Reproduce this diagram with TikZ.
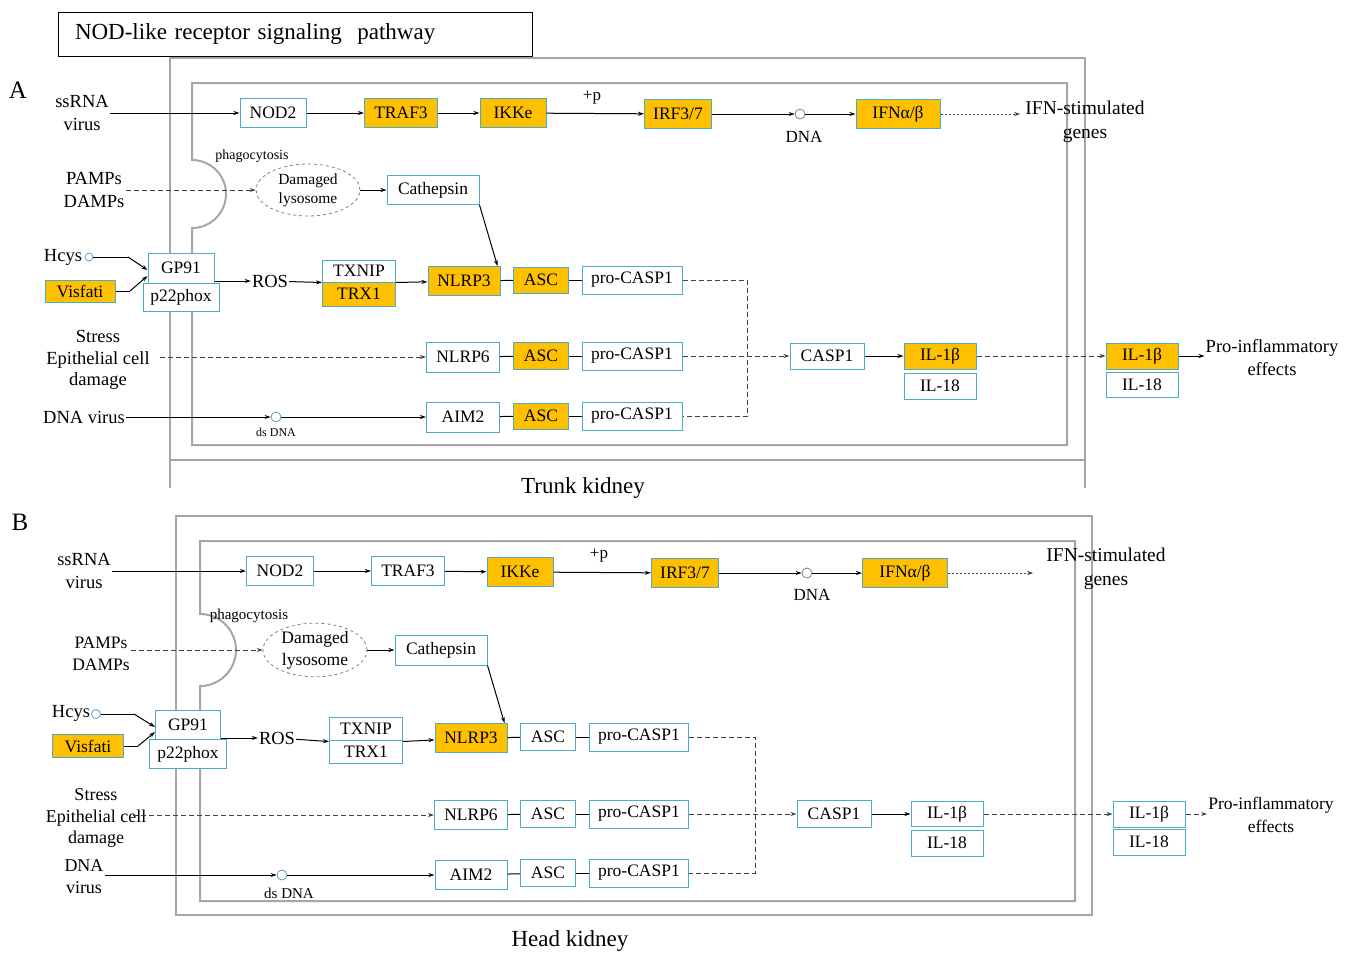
\documentclass[tikz,border=0pt]{standalone}
\usepackage{fontspec}
\setmainfont{Liberation Serif}
\usetikzlibrary{arrows.meta,shapes.geometric}
\definecolor{boxcyan}{RGB}{75,172,198}
\definecolor{boxorange}{RGB}{255,192,0}
\definecolor{membranegray}{RGB}{166,166,166}
\definecolor{linkgray}{RGB}{64,64,64}
\begin{document}
\begin{tikzpicture}[x=1pt, y=-1pt, >={Stealth[length=6pt,width=4pt]},
cyanbox/.style={rectangle, draw=boxcyan, fill=white, line width=1pt, minimum height=29pt, inner sep=1pt, font=\fontsize{17.5}{20}\selectfont},
orangebox/.style={cyanbox, fill=boxorange},
sidetext/.style={align=center, inner sep=1pt, font=\fontsize{18.5}{23}\selectfont},
smalltext/.style={inner sep=0pt, font=\fontsize{14}{16}\selectfont},
dotnode/.style={circle, draw=gray, line width=0.8pt, fill=white, minimum size=10pt, inner sep=0pt},
lysonode/.style={ellipse, draw=gray, dashed, line width=0.8pt, minimum width=104pt, minimum height=52pt, align=center, inner sep=0pt},
membrane/.style={draw=membranegray, line width=2pt},
link/.style={line width=1pt},
dashlink/.style={line width=1pt, draw=linkgray, dash pattern=on 5pt off 3pt},
dotlink/.style={line width=1pt, draw=linkgray, dash pattern=on 2pt off 2pt},
]
\useasboundingbox (0,0) rectangle (1352,954);

%Title
\node[draw, line width=1pt, minimum height=44pt, text width=440pt, inner xsep=17pt, align=left, font=\fontsize{23}{27}\selectfont](title) at(295,34) {NOD-like receptor signaling\ \ pathway};

%Membranes A
\draw[membrane] (170,488) -- (170,58) -- (1085,58) -- (1085,488);
\draw[membrane] (170,460) -- (1085,460);
\draw[membrane] (192,445) -- (192,228) arc[start angle=90, end angle=-90, radius=34] -- (192,83) -- (1067,83) -- (1067,445) -- cycle;

%Membranes B
\draw[membrane] (176,516) rectangle (1092,915);
\draw[membrane] (200,901) -- (200,686) arc[start angle=90, end angle=-90, radius=36] -- (200,541) -- (1075,541) -- (1075,901) -- cycle;

%Nodes A
\node[font=\fontsize{25}{28}\selectfont](labelA) at(18,90) {A};
\node[sidetext](ssrnaA) at(82,113) {ssRNA\\virus};
\node[cyanbox, minimum width=66pt](nodA) at(273,113) {NOD2};
\node[orangebox, minimum width=73pt](trafA) at(401,113) {TRAF3};
\node[orangebox, minimum width=66pt](ikkA) at(513,113) {IKKe};
\node[font=\fontsize{17}{20}\selectfont](plusA) at(592,98) {+p};
\node[orangebox, minimum width=67pt](irfA) at(678,114) {IRF3/7};
\node[dotnode](dnaDotA) at(800,114) {};
\node[font=\fontsize{17}{20}\selectfont](dnaA) at(804,137) {DNA};
\node[orangebox, minimum width=84pt](ifnA) at(898,114) {IFNα/β};
\node[sidetext, font=\fontsize{19.5}{24}\selectfont](isgA) at(1085,122) {IFN-stimulated\\genes};
\node[smalltext](phagoA) at(252,156) {phagocytosis};
\node[sidetext](pampsA) at(94,190) {PAMPs\\DAMPs};
\node[lysonode, font=\fontsize{15.5}{19}\selectfont](lysoA) at(308,190) {Damaged\\lysosome};
\node[cyanbox, minimum width=92pt](cathA) at(433,190) {Cathepsin};
\node[sidetext](hcysA) at(63,257) {Hcys};
\node[dotnode, draw=boxcyan, minimum size=8pt](hcysDotA) at(89,257) {};
\coordinate (hcysBendA) at(128,257);
\node[orangebox, minimum width=70pt, minimum height=22pt](visA) at(80,291) {Visfati};
\coordinate (visBendA) at(130,291);
\node[cyanbox, minimum width=66pt, minimum height=30pt](gpA) at(181,268) {GP91};
\node[cyanbox, minimum width=76pt, minimum height=28pt](phoxA) at(181,297) {p22phox};
\node[sidetext](rosA) at(270,281) {ROS};
\node[cyanbox, minimum width=73pt, minimum height=22pt](txnipA) at(359,271) {TXNIP};
\node[orangebox, minimum width=73pt, minimum height=24pt](trxA) at(359,294) {TRX1};
\node[orangebox, minimum width=72pt](nlrp3A) at(464,281) {NLRP3};
\node[orangebox, minimum width=55pt, minimum height=26pt](ascA1) at(541,280) {ASC};
\node[cyanbox, minimum width=100pt, minimum height=28pt](procaspA1) at(632,280) {pro-CASP1};
\node[sidetext, font=\fontsize{18.5}{21.5}\selectfont](stressA) at(98,360) {Stress\\Epithelial cell\\damage};
\node[cyanbox, minimum width=73pt, minimum height=30pt](nlrp6A) at(463,357) {NLRP6};
\node[orangebox, minimum width=55pt, minimum height=27pt](ascA2) at(541,356) {ASC};
\node[cyanbox, minimum width=100pt, minimum height=28pt](procaspA2) at(632,356) {pro-CASP1};
\node[cyanbox, minimum width=74pt, minimum height=26pt](caspA) at(827,356) {CASP1};
\node[orangebox, minimum width=72pt, minimum height=26pt](ilbA) at(940,356) {IL-1β};
\node[cyanbox, minimum width=72pt, minimum height=26pt](il18A) at(940,386) {IL-18};
\node[orangebox, minimum width=72pt, minimum height=26pt](ilbOutA) at(1142,356) {IL-1β};
\node[cyanbox, minimum width=72pt, minimum height=25pt](il18OutA) at(1142,385) {IL-18};
\node[sidetext](proinfA) at(1272,358) {Pro-inflammatory\\effects};
\node[sidetext](dnavirA) at(84,417) {DNA virus};
\node[dotnode, draw=boxcyan!70!gray](dsDotA) at(276,417) {};
\node[smalltext, font=\fontsize{12}{14}\selectfont](dsA) at(276,432) {ds DNA};
\node[cyanbox, minimum width=73pt, minimum height=30pt](aim2A) at(463,417) {AIM2};
\node[orangebox, minimum width=55pt, minimum height=26pt](ascA3) at(541,416) {ASC};
\node[cyanbox, minimum width=100pt, minimum height=28pt](procaspA3) at(632,416) {pro-CASP1};
\coordinate (busTopA) at(747,280);
\coordinate (busBotA) at(747,416);
\node[font=\fontsize{23}{26}\selectfont](trunkA) at(583,488) {Trunk kidney};

%Lines A
\draw[->, link] (ssrnaA) -- (nodA);
\draw[->, link] (nodA) -- (trafA);
\draw[->, link] (trafA) -- (ikkA);
\draw[->, link] (ikkA) -- (irfA);
\draw[->, link] (irfA) -- (dnaDotA);
\draw[->, link] (dnaDotA) -- (ifnA);
\draw[->, dotlink] (ifnA) -- ([xshift=-4pt]ifnA.east -| isgA.west);
\draw[->, dashlink] (pampsA) -- (lysoA);
\draw[->, link] (lysoA) -- (cathA);
\draw[->, link] (cathA.south east) -- ([xshift=-3pt]nlrp3A.north east);
\draw[link] (hcysDotA) -- (hcysBendA);
\draw[->, link] (hcysBendA) -- ([yshift=-2pt]gpA.west);
\draw[link] (visA) -- (visBendA);
\draw[->, link] (visBendA) -- ([yshift=-8pt]gpA.west);
\draw[->, link] ([yshift=-13pt]gpA.east) -- (rosA);
\draw[->, link] (rosA) -- (txnipA.south west);
\draw[->, link] (txnipA.south east) -- (nlrp3A);
\draw[link] (nlrp3A) -- (ascA1);
\draw[link] (ascA1) -- (procaspA1);
\draw[dashlink] (procaspA1) -- (busTopA) -- (busBotA) -- (procaspA3);
\draw[->, dashlink, shorten <=9pt] ([yshift=3pt]stressA.east) -- (nlrp6A);
\draw[link] (nlrp6A) -- (ascA2);
\draw[link] (ascA2) -- (procaspA2);
\draw[->, dashlink] (procaspA2) -- (caspA);
\draw[->, link] (caspA) -- (ilbA);
\draw[->, dashlink] (ilbA) -- (ilbOutA);
\draw[->, link] (ilbOutA) -- (ilbOutA.east -| proinfA.west);
\draw[->, link] (dnavirA) -- (dsDotA);
\draw[->, link] (dsDotA) -- (aim2A);
\draw[link] (aim2A) -- (ascA3);
\draw[link] (ascA3) -- (procaspA3);

%Nodes B
\node[font=\fontsize{25}{28}\selectfont](labelB) at(20,522) {B};
\node[sidetext](ssrnaB) at(84,571) {ssRNA\\virus};
\node[cyanbox, minimum width=67pt](nodB) at(280,571) {NOD2};
\node[cyanbox, minimum width=73pt](trafB) at(408,571) {TRAF3};
\node[orangebox, minimum width=66pt](ikkB) at(520,572) {IKKe};
\node[font=\fontsize{17}{20}\selectfont](plusB) at(599,555) {+p};
\node[orangebox, minimum width=67pt](irfB) at(685,573) {IRF3/7};
\node[dotnode](dnaDotB) at(807,573) {};
\node[font=\fontsize{17}{20}\selectfont](dnaB) at(812,595) {DNA};
\node[orangebox, minimum width=85pt](ifnB) at(905,573) {IFNα/β};
\node[sidetext, font=\fontsize{19.5}{24}\selectfont](isgB) at(1106,569) {IFN-stimulated\\genes};
\node[smalltext, font=\fontsize{15}{17}\selectfont](phagoB) at(249,616) {phagocytosis};
\node[sidetext, font=\fontsize{17.5}{22}\selectfont](pampsB) at(101,654) {PAMPs\\DAMPs};
\node[lysonode, font=\fontsize{17.5}{22}\selectfont](lysoB) at(315,650) {Damaged\\lysosome};
\node[cyanbox, minimum width=92pt, minimum height=30pt](cathB) at(441,650) {Cathepsin};
\node[sidetext](hcysB) at(71,713) {Hcys};
\node[dotnode, draw=boxcyan, minimum size=9pt](hcysDotB) at(96,714) {};
\coordinate (hcysBendB) at(134,714);
\node[orangebox, minimum width=71pt, minimum height=23pt](visB) at(88,746) {Visfati};
\coordinate (visBendB) at(138,746);
\node[cyanbox, minimum width=65pt](gpB) at(188,725) {GP91};
\node[cyanbox, minimum width=77pt](phoxB) at(188,754) {p22phox};
\node[sidetext](rosB) at(277,738) {ROS};
\node[cyanbox, minimum width=73pt, minimum height=24pt](txnipB) at(366,729) {TXNIP};
\node[cyanbox, minimum width=73pt, minimum height=23pt](trxB) at(366,752) {TRX1};
\node[orangebox, minimum width=72pt](nlrp3B) at(471,738) {NLRP3};
\node[cyanbox, minimum width=55pt, minimum height=27pt](ascB1) at(548,737) {ASC};
\node[cyanbox, minimum width=99pt, minimum height=28pt](procaspB1) at(639,737) {pro-CASP1};
\node[sidetext, font=\fontsize{18}{21.5}\selectfont](stressB) at(96,818) {Stress\\Epithelial cell\\damage};
\node[cyanbox, minimum width=73pt](nlrp6B) at(471,815) {NLRP6};
\node[cyanbox, minimum width=55pt, minimum height=27pt](ascB2) at(548,814) {ASC};
\node[cyanbox, minimum width=99pt, minimum height=28pt](procaspB2) at(639,814) {pro-CASP1};
\node[cyanbox, minimum width=74pt, minimum height=27pt](caspB) at(834,814) {CASP1};
\node[cyanbox, minimum width=72pt, minimum height=25pt](ilbB) at(947,814) {IL-1β};
\node[cyanbox, minimum width=72pt, minimum height=26pt](il18B) at(947,843) {IL-18};
\node[cyanbox, minimum width=72pt, minimum height=26pt](ilbOutB) at(1149,814) {IL-1β};
\node[cyanbox, minimum width=72pt, minimum height=26pt](il18OutB) at(1149,842) {IL-18};
\node[sidetext, font=\fontsize{17.5}{23}\selectfont](proinfB) at(1271,815) {Pro-inflammatory\\effects};
\node[sidetext, font=\fontsize{18}{22}\selectfont](dnavirB) at(84,877) {DNA\\virus};
\node[dotnode, draw=boxcyan!70!gray](dsDotB) at(282,875) {};
\node[smalltext, font=\fontsize{15}{17}\selectfont](dsB) at(289,893) {ds DNA};
\node[cyanbox, minimum width=72pt](aim2B) at(471,875) {AIM2};
\node[cyanbox, minimum width=55pt, minimum height=27pt](ascB3) at(548,873) {ASC};
\node[cyanbox, minimum width=99pt, minimum height=28pt](procaspB3) at(639,873) {pro-CASP1};
\coordinate (busTopB) at(755,737);
\coordinate (busBotB) at(755,873);
\node[font=\fontsize{23}{26}\selectfont](headB) at(570,941) {Head kidney};

%Lines B
\draw[->, link] (ssrnaB) -- (nodB);
\draw[->, link] (nodB) -- (trafB);
\draw[->, link] (trafB) -- (ikkB);
\draw[->, link] (ikkB) -- (irfB);
\draw[->, link] (irfB) -- (dnaDotB);
\draw[->, link] (dnaDotB) -- (ifnB);
\draw[->, dotlink, shorten >=12pt] (ifnB) -- (ifnB.east -| isgB.west);
\draw[->, dashlink] ([yshift=4pt]pampsB.east) -- (lysoB);
\draw[->, link] (lysoB) -- (cathB);
\draw[->, link] (cathB.south east) -- ([xshift=-3pt]nlrp3B.north east);
\draw[link] (hcysDotB) -- (hcysBendB);
\draw[->, link] (hcysBendB) -- ([yshift=-2pt]gpB.west);
\draw[link] (visB) -- (visBendB);
\draw[->, link] (visBendB) -- ([yshift=-7pt]gpB.west);
\draw[->, link] ([yshift=-13pt]gpB.east) -- (rosB);
\draw[->, link] (rosB) -- (txnipB.south west);
\draw[->, link] (txnipB.south east) -- (nlrp3B);
\draw[link] (nlrp3B) -- (ascB1);
\draw[link] (ascB1) -- (procaspB1);
\draw[dashlink] (procaspB1) -- (busTopB) -- (busBotB) -- (procaspB3);
\draw[->, dashlink] ([xshift=-14pt, yshift=3pt]stressB.east) -- (nlrp6B);
\draw[link] (nlrp6B) -- (ascB2);
\draw[link] (ascB2) -- (procaspB2);
\draw[->, dashlink] (procaspB2) -- (caspB);
\draw[->, link] (caspB) -- (ilbB);
\draw[->, dashlink] (ilbB) -- (ilbOutB);
\draw[->, dashlink] (ilbOutB) -- (ilbOutB.east -| proinfB.west);
\draw[->, link] ([yshift=2pt]dnavirB.east) -- (dsDotB);
\draw[->, link] (dsDotB) -- (aim2B);
\draw[link] (aim2B) -- (ascB3);
\draw[link] (ascB3) -- (procaspB3);
\end{tikzpicture}
\end{document}
